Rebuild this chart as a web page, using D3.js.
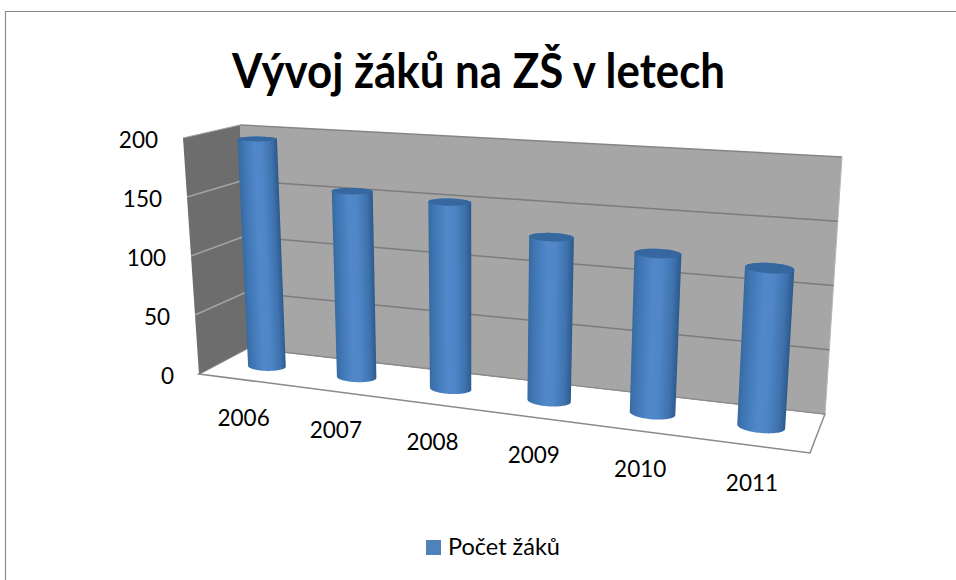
<!DOCTYPE html>
<html><head><meta charset="utf-8">
<script src="https://cdn.jsdelivr.net/npm/d3@7"></script>
<style>html,body{margin:0;padding:0;background:#fff}svg{display:block;font-family:Lato,"Open Sans",sans-serif}</style>
</head><body>
<div id="chart"></div>
<script>
const categories = ["2006","2007","2008","2009","2010","2011"];
const values = [196,157,154,132,126,122];
const yTicks = [0,50,100,150,200];
const seriesName = "Počet žáků";
const titleText = "Vývoj žáků na ZŠ v letech";

const W=956,H=580;
const svg=d3.select("#chart").append("svg").attr("width",W).attr("height",H);
const defs=svg.append("defs");

// box corners of the 3D plot in screen space (front/back, left/right, bottom/top)
const corners={
  blb:[248,348],blt:[240,125],brb:[825,414],brt:[842,157],
  flb:[199,374],flt:[183,138],frb:[810,453],frt:[826,184]
};
const uScale=d3.scaleBand().domain(categories).range([0,1]).paddingInner(0.57).paddingOuter(0.285);
const vScale=d3.scaleLinear().domain([0,200]).range([0,1]);
const a=0.866;
const persp=u=>a*u/(1+(a-1)*u);
const lerp=(p,q,t)=>[p[0]+(q[0]-p[0])*t,p[1]+(q[1]-p[1])*t];
// u: left->right, v: bottom->top, w: front(0)->back(1)
function P(u,v,w){
  const t=persp(u),c=corners;
  const fb=lerp(c.flb,c.frb,t),ft=lerp(c.flt,c.frt,t),bb=lerp(c.blb,c.brb,t),bt=lerp(c.blt,c.brt,t);
  return lerp(lerp(fb,ft,v),lerp(bb,bt,v),w);
}
const poly=pts=>"M"+pts.map(p=>p[0].toFixed(2)+","+p[1].toFixed(2)).join("L")+"Z";
const line=(g,p,q,col,w)=>g.append("line").attr("x1",p[0]).attr("y1",p[1]).attr("x2",q[0]).attr("y2",q[1]).attr("stroke",col).attr("stroke-width",w);

// frame
svg.append("path").attr("d",`M5.5,${H}V11.5H${W}`).attr("fill","none").attr("stroke","#8c8c8c").attr("stroke-width",1.2);

// title
svg.append("text").attr("x",232).attr("y",88).attr("textLength",493).attr("lengthAdjust","spacingAndGlyphs")
  .attr("font-size",47).attr("font-weight",700).attr("fill","#000").text(titleText);

const g=svg.append("g");
// walls & floor
g.append("path").attr("d",poly([P(0,0,0),P(0,0,1),P(1,0,1),P(1,0,0)])).attr("fill","#fff").attr("stroke","#8a8a8a").attr("stroke-width",1.5);
g.append("path").attr("d",poly([P(0,0,1),P(0,1,1),P(1,1,1),P(1,0,1)])).attr("fill","#a6a6a6");
g.append("path").attr("d",poly([P(0,0,0),P(0,1,0),P(0,1,1),P(0,0,1)])).attr("fill","#6d6d6d");
line(g,P(0,1,0),P(0,1,1),"#a0a0a0",1.2);
line(g,P(0,1,1),P(1,1,1),"#858585",1.5);
line(g,P(1,1,1),P(1,0,1),"#b4b4b4",1);
line(g,P(0,0,1),P(1,0,1),"#8a8a8a",1.2);
yTicks.filter(d=>d>0&&d<200).forEach(d=>{
  const v=vScale(d);
  line(g,P(0,v,0),P(0,v,1),"#a3a3a3",1.5);
  line(g,P(0,v,1),P(1,v,1),"#7c7c7c",1.5);
});

// y tick labels
svg.append("g").selectAll("text").data(yTicks).join("text")
  .attr("x",d=>P(0,vScale(d),0)[0]-25)
  .attr("y",d=>P(0,vScale(d),0)[1]+10)
  .attr("text-anchor","end").attr("font-size",22.5).attr("fill","#000").text(d=>d);

// cylinders
const rw=0.17,w0=0.5;
function ring(cu,ru,v){
  const L=P(cu-ru,v,w0),R=P(cu+ru,v,w0);
  const C=lerp(L,R,0.5);
  const F=P(cu,v,w0-rw),B=P(cu,v,w0+rw);
  const ry=Math.abs(F[1]-B[1])/2, sx=(F[0]-B[0])/2, hw=(R[0]-L[0])/2;
  // tilt of the silhouette: slope along the category axis, reduced by the depth shear
  const tilt=(R[1]-L[1])/2+ry*sx/hw;
  const L2=[C[0]-hw,C[1]-tilt],R2=[C[0]+hw,C[1]+tilt];
  return {L:L2,R:R2,C,ry,pt:th=>[C[0]+hw*Math.cos(th),C[1]+tilt*Math.cos(th)+ry*Math.sin(th)]};
}
const bars=svg.append("g");
categories.forEach((cat,i)=>{
  const ru=uScale.bandwidth()/2,cu=uScale(cat)+ru;
  const top=ring(cu,ru,vScale(values[i])),bot=ring(cu,ru,0);
  const N=40,pts=[],cap=[];
  for(let k=0;k<=N;k++){pts.push(bot.pt(Math.PI*k/N));}
  for(let k=0;k<=N;k++){pts.push(top.pt(Math.PI+Math.PI*k/N));}
  for(let k=0;k<N*2;k++){cap.push(top.pt(Math.PI*k/N));}
  const dx=top.C[0]-bot.C[0],dy=top.C[1]-bot.C[1],len=Math.hypot(dx,dy);
  const nx=-dy/len,ny=dx/len;
  const mL=lerp(top.L,bot.L,.5),mR=lerp(top.R,bot.R,.5);
  const dot=(mR[0]-mL[0])*nx+(mR[1]-mL[1])*ny;
  const id="cyl"+i;
  const gr=defs.append("linearGradient").attr("id",id).attr("gradientUnits","userSpaceOnUse")
    .attr("x1",mL[0]).attr("y1",mL[1]).attr("x2",mL[0]+nx*dot).attr("y2",mL[1]+ny*dot);
  [[0,"#376a9f"],[.12,"#3f75b3"],[.42,"#5088ca"],[.6,"#4e86c7"],[.85,"#3f72ae"],[1,"#2c5a8c"]]
    .forEach(s=>gr.append("stop").attr("offset",s[0]).attr("stop-color",s[1]));
  bars.append("path").attr("d",poly(pts)).attr("fill",`url(#${id})`);
  bars.append("path").attr("d",poly(cap)).attr("fill","#36689f");
});

// category labels
svg.append("g").selectAll("text").data(categories).join("text")
  .attr("x",d=>P(uScale(d)+uScale.bandwidth()/2,0,0)[0])
  .attr("y",d=>P(uScale(d)+uScale.bandwidth()/2,0,0)[1]+46)
  .attr("text-anchor","middle").attr("font-size",22.5).attr("fill","#000").text(d=>d);

// legend
svg.append("rect").attr("x",426).attr("y",540).attr("width",15).attr("height",15).attr("fill","#4f81bd");
svg.append("text").attr("x",448).attr("y",555).attr("font-size",23.5).attr("fill","#000").text(seriesName);
</script>
</body></html>
